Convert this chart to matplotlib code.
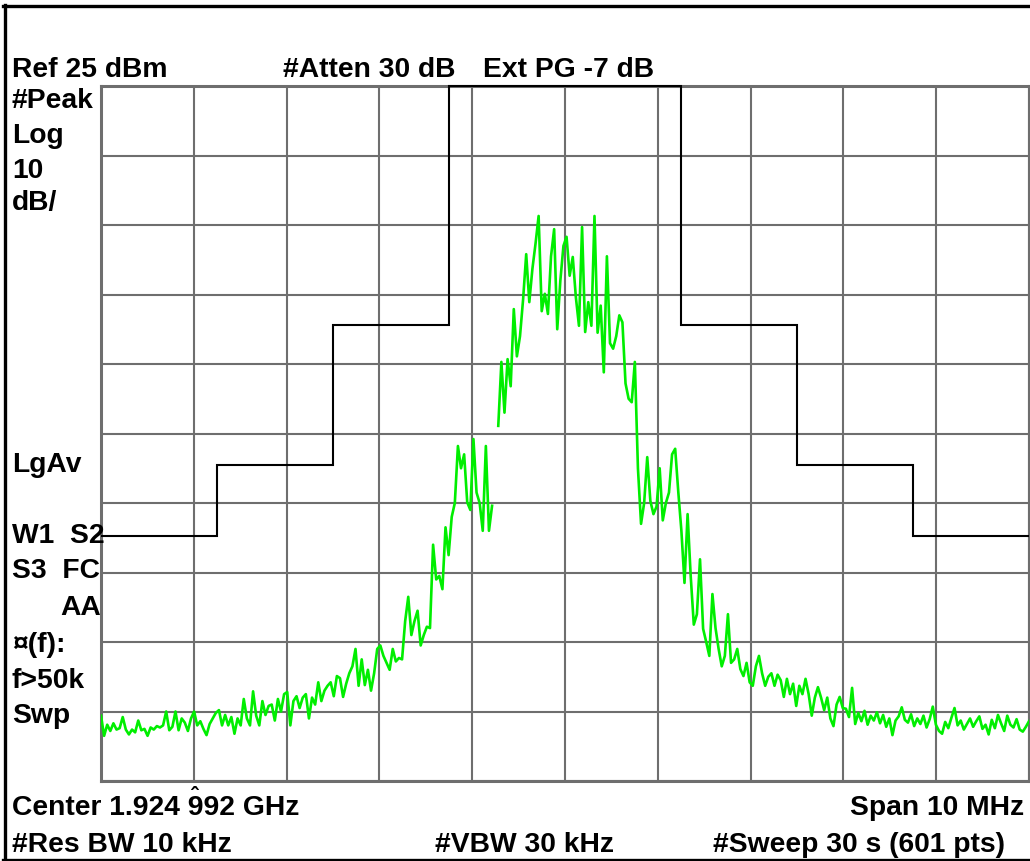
import numpy as np
import matplotlib
matplotlib.use("Agg")
import matplotlib.pyplot as plt
from matplotlib.lines import Line2D

W, H = 1030, 862

level_dbm = [
    -65.6, -68.5, -66.9, -67.8, -66.7, -67.6, -67.4, -65.8, -67.6, -68.3, -67.6, -68.0, -66.3, -67.7, -67.5, -68.5, -67.3, -67.6, -67.1, -67.3,
    -67.0, -65.0, -67.7, -67.2, -65.0, -67.7, -66.0, -66.6, -67.8, -66.0, -65.0, -67.0, -66.4, -67.5, -68.4, -66.8, -66.0, -65.2, -64.8, -67.0,
    -65.5, -67.0, -65.8, -68.2, -66.0, -67.0, -63.2, -66.0, -67.0, -62.1, -65.6, -67.0, -63.5, -65.5, -64.2, -64.0, -66.3, -63.2, -65.0, -62.5,
    -62.2, -67.0, -63.5, -62.8, -64.5, -63.0, -62.5, -66.0, -63.0, -64.0, -60.8, -63.5, -62.0, -61.3, -60.8, -62.8, -59.9, -60.2, -62.9, -61.0,
    -59.5, -58.5, -56.0, -61.3, -57.5, -61.2, -59.0, -62.0, -59.5, -56.0, -55.5, -57.0, -58.0, -59.0, -56.0, -57.8, -57.3, -57.5, -52.0, -48.5,
    -54.0, -52.0, -50.5, -55.5, -54.0, -52.8, -53.0, -41.0, -46.0, -45.5, -47.4, -38.5, -42.5, -37.0, -35.0, -26.8, -30.0, -28.0, -34.9, -36.0,
    -25.8, -33.5, -35.0, -39.0, -26.8, -39.0, -35.4, np.nan, -23.9, -14.7, -22.0, -14.3, -18.2, -7.1, -13.9, -11.0, -5.7, 0.8, -6.1, -1.3,
    2.3, 6.3, -7.4, -4.9, -7.8, 0.5, 4.4, -10.0, -3.0, 2.0, 3.3, -2.3, 0.4, -5.4, -9.5, 4.7, -10.4, -6.1, -9.5, 6.3,
    -10.5, -6.6, -16.2, 0.5, -12.0, -12.8, -11.0, -8.0, -9.0, -17.8, -20.0, -20.5, -14.7, -30.0, -38.0, -35.0, -28.4, -34.7, -36.6, -35.5,
    -30.0, -37.5, -35.0, -33.5, -28.0, -27.2, -33.4, -39.0, -46.5, -36.6, -45.5, -52.5, -51.0, -43.1, -53.1, -55.0, -57.0, -48.1, -53.0, -56.0,
    -58.5, -57.0, -51.0, -58.0, -57.5, -56.0, -58.9, -59.9, -58.0, -60.8, -61.3, -58.5, -57.0, -59.5, -61.3, -60.0, -59.5, -61.3, -59.7, -60.5,
    -62.9, -60.3, -62.5, -61.0, -64.2, -61.3, -62.5, -60.3, -62.5, -65.6, -63.0, -61.5, -63.0, -64.8, -63.0, -66.0, -67.1, -64.0, -62.9, -64.5,
    -64.6, -65.8, -61.6, -66.8, -65.2, -66.4, -64.9, -66.9, -65.6, -66.3, -65.1, -66.7, -65.5, -67.2, -66.0, -68.4, -66.3, -65.7, -64.4, -66.2,
    -66.6, -65.4, -67.1, -66.0, -66.8, -65.6, -67.3, -66.1, -64.3, -66.9, -67.8, -68.2, -66.5, -67.4, -65.9, -64.5, -67.0, -66.3, -67.6, -66.8,
    -66.0, -67.2, -66.4, -65.7, -67.5, -66.9, -68.3, -66.2, -67.4, -65.5, -66.7, -67.8, -65.6, -66.9, -67.3, -66.1, -67.6, -67.9, -67.2, -66.4,
]
freq_mhz = np.linspace(-5, 5, len(level_dbm))

# limit mask (step edges in MHz, level in dBm)
mask_edges = [-5, -3.75, -2.5, -1.25, 1.25, 2.5, 3.75, 5]
mask_level = [-39.7, -29.5, -9.4, 25, -9.4, -29.5, -39.7]

ref_level = 25
db_per_div = 10

grid_col = "#6e6e6e"
plt.rcParams["font.family"] = ["Liberation Sans", "DejaVu Sans"]

fig = plt.figure(figsize=(W / 100, H / 100), dpi=100)
ax = fig.add_axes([101 / W, (H - 782) / H, 928 / W, 695 / H])

ax.set_xlim(-5, 5)
ax.set_ylim(ref_level - 10 * db_per_div, ref_level)
ax.set_xticks(np.arange(-5, 6, 1))
ax.set_yticks(np.arange(ref_level - 10 * db_per_div, ref_level + 1, db_per_div))
ax.tick_params(length=0, labelleft=False, labelbottom=False)
ax.grid(True, color=grid_col, lw=1.5)
for s in ax.spines.values():
    s.set_color(grid_col)
    s.set_linewidth(2.2)

ax.stairs(mask_level, mask_edges, baseline=None, color="black", lw=1.5, clip_on=False, zorder=3)
ax.plot(freq_mhz, level_dbm, color="#00ee00", lw=1.9, zorder=4)


def px(x, y):
    return x / W, 1 - y / H


FS = 20.3


def label(x, y, s, ha="left"):
    fig.text(*px(x, y), s, ha=ha, va="baseline", fontsize=FS, fontweight="bold")


label(12, 77, "Ref 25 dBm")
label(283, 77, "#Atten 30 dB")
label(483, 77, "Ext PG -7 dB")

left_col = [("#Peak", 108), ("Log", 143), ("10", 178), ("dB/", 210),
            ("LgAv", 472), ("W1  S2", 543), ("S3  FC", 578),
            ("\u00a4(f):", 652), ("f>50k", 688), ("Swp", 723)]
for s, y in left_col:
    label(12, y, s)
label(101, 615, "AA", ha="right")

label(12, 815, "Center 1.924 992 GHz")
# circumflex drawn over the first 9 of "992", as on the screen
fig.text(*px(195, 803), "\u02c6", ha="center", va="baseline", fontsize=16, fontweight="bold")
label(1024, 815, "Span 10 MHz", ha="right")
label(12, 852, "#Res BW 10 kHz")
label(435, 852, "#VBW 30 kHz")
label(713, 852, "#Sweep 30 s (601 pts)")

# outer frame of the screen
lw_frame = 2.4
fig.add_artist(Line2D([px(4.5, 0)[0]] * 2, [px(0, 6)[1], px(0, 861)[1]], color="black", lw=lw_frame))
fig.add_artist(Line2D([px(3, 0)[0], 1.0], [px(0, 6.5)[1]] * 2, color="black", lw=lw_frame))
fig.add_artist(Line2D([px(3, 0)[0], 1.0], [px(0, 860.5)[1]] * 2, color="black", lw=lw_frame))

fig.savefig("out.png", dpi=100, facecolor="white")
